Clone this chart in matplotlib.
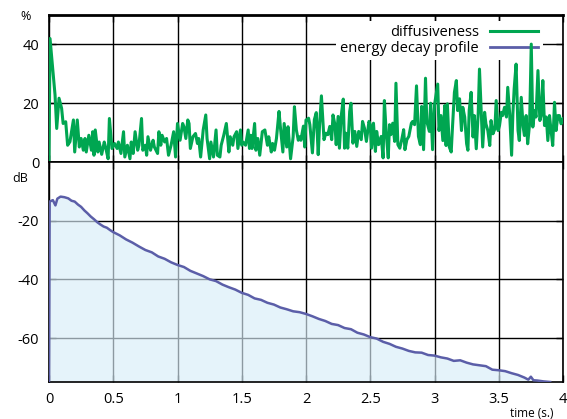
import matplotlib
matplotlib.use("Agg")
import matplotlib.pyplot as plt

plt.rcParams['font.family'] = ['Open Sans', 'DejaVu Sans']
plt.rcParams['axes.unicode_minus'] = False

# diffusiveness (%)
diff_t = [0.0, 0.008, 0.047, 0.06, 0.078, 0.098, 0.11, 0.13, 0.145, 0.163, 0.19, 0.20, 0.22, 0.236,
          0.25, 0.267, 0.28, 0.29, 0.31, 0.33, 0.34, 0.35, 0.36, 0.38, 0.39, 0.41, 0.43, 0.44,
          0.46, 0.47, 0.49, 0.51, 0.53, 0.54, 0.56, 0.58, 0.59, 0.61, 0.63, 0.64, 0.655, 0.67,
          0.69, 0.70, 0.72, 0.73, 0.75, 0.76, 0.77, 0.79, 0.81, 0.82, 0.845, 0.855, 0.87, 0.88,
          0.90, 0.915, 0.93, 0.95, 0.97, 0.985, 1.0,
          1.02, 1.04, 1.05, 1.065, 1.08, 1.09, 1.10, 1.12, 1.14, 1.155, 1.165, 1.18, 1.20,
          1.22, 1.23, 1.25, 1.26, 1.28, 1.30, 1.31, 1.33, 1.34, 1.36, 1.38, 1.40, 1.41, 1.43,
          1.44, 1.46, 1.47, 1.49, 1.50, 1.51, 1.53, 1.55, 1.56, 1.57, 1.58, 1.60, 1.61, 1.625,
          1.64, 1.66, 1.68, 1.70, 1.71, 1.73, 1.74, 1.755, 1.77, 1.79, 1.80, 1.82, 1.83, 1.85,
          1.86, 1.88, 1.90, 1.91, 1.925, 1.94, 1.95, 1.96, 1.98, 1.99, 2.0,
          2.01, 2.02, 2.03, 2.05, 2.065, 2.08, 2.095, 2.105, 2.12, 2.14, 2.155, 2.17, 2.185,
          2.20, 2.21, 2.225, 2.235, 2.25, 2.26, 2.275, 2.29, 2.30, 2.31, 2.325, 2.34, 2.35,
          2.365, 2.38, 2.395, 2.41, 2.43, 2.44, 2.455, 2.47, 2.49, 2.50, 2.51, 2.525, 2.54,
          2.55, 2.565, 2.585, 2.60, 2.61, 2.625, 2.64, 2.65, 2.66, 2.675, 2.69, 2.70, 2.715,
          2.73, 2.745, 2.76, 2.77, 2.785, 2.80, 2.82, 2.83, 2.845, 2.86, 2.875, 2.89, 2.90,
          2.915, 2.93, 2.94, 2.96, 2.97, 2.985, 3.0,
          3.025, 3.035, 3.05, 3.065, 3.08, 3.09, 3.10, 3.115, 3.13, 3.14, 3.155, 3.17, 3.18,
          3.195, 3.21, 3.22, 3.235, 3.25, 3.26, 3.27, 3.285, 3.30, 3.31, 3.325, 3.34, 3.35,
          3.365, 3.375, 3.39, 3.40, 3.415, 3.43, 3.44, 3.455, 3.47, 3.48, 3.495, 3.506, 3.52,
          3.53, 3.545, 3.56, 3.57, 3.585, 3.60, 3.61, 3.62, 3.635, 3.65, 3.66, 3.675, 3.69,
          3.70, 3.713, 3.725, 3.74, 3.753, 3.765, 3.78, 3.79, 3.805, 3.82, 3.83, 3.843, 3.856,
          3.87, 3.882, 3.895, 3.907, 3.92, 3.934, 3.946, 3.96, 3.972, 3.985, 4.0]
diff_v = [0, 42, 22.8, 11.4, 21.7, 18.3, 13.1, 13.7, 5.7, 6.9, 14.3, 3.4, 14.3, 5.1,
          8.0, 4.0, 8.0, 3.4, 9.1, 4.0, 10.3, 2.3, 10.9, 3.4, 6.8, 2.6, 6.8, 5.1,
          1.1, 14.8, 4.6, 6.3, 4.6, 6.8, 2.9, 10.3, 1.7, 5.7, 1.1, 6.8, 2.9, 10.3,
          4.0, 5.7, 14.8, 4.0, 5.7, 2.3, 8.6, 4.0, 7.4, 5.1, 2.9, 10.3, 5.7, 9.1,
          6.8, 8.0, 2.3, 5.7, 10.3, 1.7, 13.1,
          7.4, 13.1, 12.0, 8.0, 14.3, 13.1, 4.6, 8.6, 9.7, 6.3, 8.0, 1.7, 10.9,
          16.0, 8.0, 1.1, 6.8, 1.7, 10.9, 2.3, 1.7, 5.7, 9.1, 13.1, 3.4, 8.6, 5.7,
          8.6, 10.3, 4.6, 10.9, 5.7, 6.8, 5.7, 10.9, 4.6, 9.1, 4.6, 13.1, 4.0, 8.0,
          2.3, 10.3, 10.9, 5.7, 8.6, 3.4, 6.3, 4.0, 8.0, 17.2, 12.2, 3.4, 13.1, 5.1,
          12.0, 1.1, 8.6, 18.8, 10.9, 7.4, 8.6, 7.4, 12.2, 5.1, 14.3,
          14.4, 14.9, 12.7, 3.1, 14.4, 16.8, 2.5, 12.1, 22.5, 7.6, 9.8, 9.3, 12.1,
          7.6, 16.0, 12.7, 5.9, 15.5, 4.7, 16.0, 21.4, 4.7, 9.8, 4.7, 17.2, 20.0,
          6.4, 10.4, 5.3, 10.4, 7.6, 13.8, 11.5, 7.0, 13.8, 12.7, 4.7, 13.2, 3.6,
          10.4, 5.9, 8.7, 1.4, 20.9, 9.3, 1.4, 12.7, 9.3, 13.2, 7.0, 26.8, 5.9,
          4.7, 7.6, 11.0, 4.2, 7.6, 8.7, 13.2, 13.8, 12.7, 25.9, 8.7, 5.9, 18.9,
          4.2, 28.5, 13.8, 10.4, 20.0, 4.2, 19.4,
          26.5, 10.7, 15.8, 7.3, 19.2, 5.6, 19.8, 5.1, 3.4, 11.9, 23.7, 27.7, 17.5,
          21.5, 10.7, 18.6, 15.3, 6.2, 4.0, 17.5, 23.7, 8.5, 15.8, 4.5, 16.4, 31.6,
          15.3, 5.1, 16.9, 13.0, 10.7, 5.6, 14.1, 9.6, 11.3, 20.9, 10.7, 12.4, 16.9,
          15.8, 18.6, 15.3, 25.4, 16.4, 2.3, 16.4, 24.9, 33.3, 10.7, 7.3, 22.0, 11.9,
          9.0, 15.8, 6.2, 13.0, 40.1, 11.9, 17.5, 15.3, 31.1, 14.1, 15.8, 27.7, 12.4,
          15.3, 7.3, 15.8, 10.7, 5.6, 20.3, 10.7, 15.8, 15.8, 13.0, 14.7]

# energy decay profile (dB)
decay_t = [0.0, 0.005, 0.03, 0.05, 0.065, 0.09, 0.12, 0.15, 0.175, 0.2, 0.225, 0.25, 0.275,
           0.3, 0.325, 0.35, 0.375, 0.4, 0.425, 0.45, 0.475, 0.5, 0.55, 0.6, 0.65, 0.7,
           0.75, 0.8, 0.85, 0.9, 0.95, 1.0, 1.05, 1.1, 1.15, 1.2, 1.25, 1.3, 1.35, 1.4,
           1.45, 1.5, 1.55, 1.6, 1.65, 1.7, 1.75, 1.8, 1.85, 1.9, 1.95, 2.0, 2.05, 2.1,
           2.15, 2.2, 2.25, 2.3, 2.35, 2.4, 2.45, 2.5, 2.55, 2.6, 2.65, 2.7, 2.75, 2.8,
           2.85, 2.9, 2.95, 3.0, 3.05, 3.1, 3.15, 3.2, 3.25, 3.3, 3.35, 3.4, 3.45, 3.5,
           3.55, 3.6, 3.65, 3.7, 3.73, 3.75, 3.77, 3.8, 3.85, 3.9]
decay_db = [-75, -13.5, -13.0, -14.8, -12.5, -11.8, -12.0, -12.4, -13.2, -13.5, -14.5, -15.3,
            -16.5, -17.5, -18.6, -19.5, -20.5, -21.3, -22.0, -22.4, -23.2, -23.9, -25.0,
            -26.4, -27.5, -28.8, -30.0, -30.8, -32.2, -33.0, -34.2, -35.1, -35.8, -37.1,
            -38.0, -38.9, -40.0, -40.6, -41.8, -42.7, -43.5, -44.6, -45.3, -46.5, -47.0,
            -48.0, -48.6, -49.6, -50.2, -50.9, -51.2, -51.8, -52.6, -53.5, -54.2, -55.2,
            -55.6, -56.6, -57.0, -58.2, -58.8, -59.7, -60.2, -61.3, -62.0, -63.0, -63.6,
            -64.4, -64.9, -65.0, -65.8, -66.0, -66.6, -67.0, -67.8, -67.6, -68.4, -69.0,
            -69.3, -69.6, -70.8, -71.0, -71.3, -72.0, -72.6, -73.5, -74.2, -73.2, -74.4,
            -74.5, -74.8, -75.0]

xticks = [0, 0.5, 1, 1.5, 2, 2.5, 3, 3.5, 4]
xticklabels = ['0', '0.5', '1', '1.5', '2', '2.5', '3', '3.5', '4']

green = '#00a651'
blue = '#5b5ea8'

fig = plt.figure(figsize=(5.67, 4.19), dpi=100)
ax1 = fig.add_axes([49 / 567, 1 - 162 / 419, 514 / 567, 147 / 419])
ax2 = fig.add_axes([49 / 567, 1 - 382 / 419, 514 / 567, 220 / 419])

for ax in (ax1, ax2):
    ax.set_xlim(0, 4)
    ax.set_xticks(xticks)
    ax.grid(True, color='black', linewidth=1.0)
    ax.set_axisbelow(True)
    ax.tick_params(direction='in', length=5, width=1, labelsize=10.5, pad=7,
                   top=True, right=True)
    for s in ax.spines.values():
        s.set_linewidth(1.2)

ax1.plot(diff_t, diff_v, color=green, linewidth=2.2, label='diffusiveness', zorder=3)
ax1.plot([], [], color=blue, linewidth=2.0, label='energy decay profile')
ax1.set_ylim(0, 50)
ax1.set_yticks([0, 20, 40])
ax1.set_xticklabels([])
ax1.spines['top'].set_linewidth(2)
leg = ax1.legend(loc='upper right', bbox_to_anchor=(0.975, 1.01), markerfirst=False,
                 frameon=True, fancybox=False, framealpha=1, edgecolor='none',
                 fontsize=10.5, handlelength=3.3, handletextpad=0.8, labelspacing=0.05,
                 borderpad=0.3)
leg.get_frame().set_linewidth(0)
leg.set_zorder(2.5)

ax2.fill_between(decay_t, decay_db, -75, color='#d8edf8', alpha=0.65, linewidth=0, zorder=2)
ax2.plot(decay_t, decay_db, color=blue, linewidth=1.8, zorder=3)
ax2.set_ylim(-75, 0)
ax2.set_yticks([-20, -40, -60])
ax2.set_xticklabels(xticklabels)

fig.text(20 / 567, 1 - 17 / 419, '%', fontsize=9, ha='left', va='center')
fig.text(12 / 567, 1 - 178 / 419, 'dB', fontsize=9, ha='left', va='center')
fig.text(553 / 567, 1 - 413 / 419, 'time (s.)', fontsize=8.5, ha='right', va='center')

fig.savefig('out.png', dpi=100)
